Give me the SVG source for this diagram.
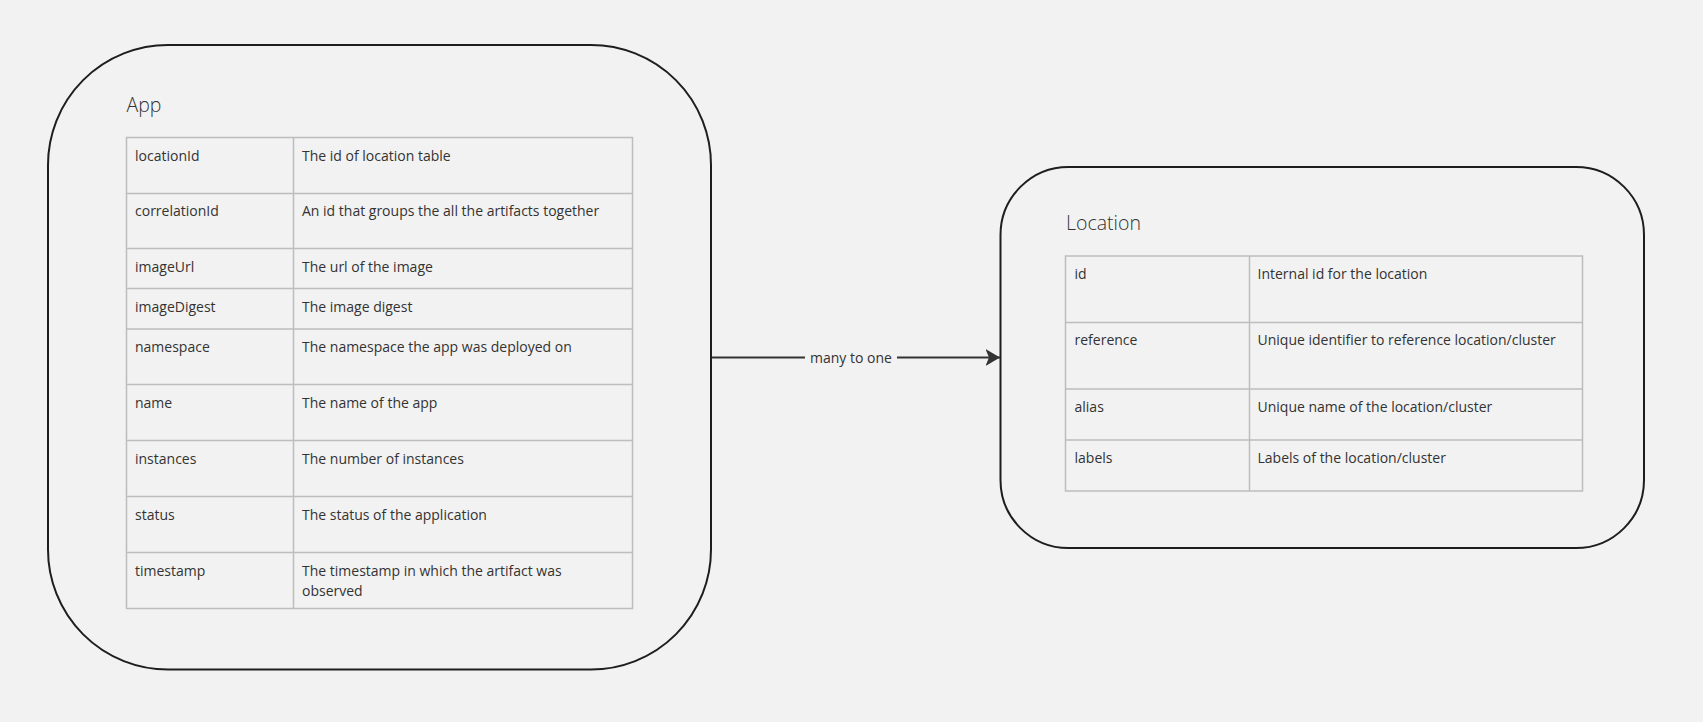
<svg xmlns="http://www.w3.org/2000/svg" width="1703" height="722" viewBox="0 0 1703 722">
<defs>
<style>
.bg{fill:#f2f2f2}
.box{fill:none;stroke:#1e1e1e;stroke-width:2}
.grid{fill:none;stroke:#bdbdbd;stroke-width:1.5}
.t{font-family:"Open Sans","Liberation Sans",sans-serif;font-size:14px;fill:#333}
.title{font-family:"Open Sans","Liberation Sans",sans-serif;font-size:19.5px;font-weight:300;fill:#333}
.edge{fill:none;stroke:#333;stroke-width:2}
</style>
<marker id="arr" viewBox="0 0 15 18" refX="14.5" refY="9" markerWidth="15" markerHeight="18" markerUnits="userSpaceOnUse" orient="auto">
<path d="M0,0.5 L14.5,9 L0,17.5 L3.5,9 Z" fill="#333"/>
</marker>
</defs>
<rect class="bg" x="0" y="0" width="1703" height="722"/>

<g id="app">
<rect class="box" x="48" y="45" width="663" height="624.5" rx="120" ry="120"/>
<text class="title" x="126.5" y="111.5">App</text>
<g class="grid">
<rect x="126.5" y="137.5" width="506" height="471"/>
<line x1="293.5" y1="137.5" x2="293.5" y2="608.5"/>
<line x1="126.5" y1="193.5" x2="632.5" y2="193.5"/>
<line x1="126.5" y1="248.5" x2="632.5" y2="248.5"/>
<line x1="126.5" y1="288.5" x2="632.5" y2="288.5"/>
<line x1="126.5" y1="329" x2="632.5" y2="329"/>
<line x1="126.5" y1="384.5" x2="632.5" y2="384.5"/>
<line x1="126.5" y1="440.5" x2="632.5" y2="440.5"/>
<line x1="126.5" y1="496.5" x2="632.5" y2="496.5"/>
<line x1="126.5" y1="552.5" x2="632.5" y2="552.5"/>
</g>
<text class="t" x="135" y="160.5">locationId</text>
<text class="t" x="302" y="160.5">The id of location table</text>
<text class="t" x="135" y="216.3">correlationId</text>
<text class="t" x="302" y="216.3">An id that groups the all the artifacts together</text>
<text class="t" x="135" y="271.5">imageUrl</text>
<text class="t" x="302" y="271.5">The url of the image</text>
<text class="t" x="135" y="311.5">imageDigest</text>
<text class="t" x="302" y="311.5">The image digest</text>
<text class="t" x="135" y="351.8">namespace</text>
<text class="t" x="302" y="351.8">The namespace the app was deployed on</text>
<text class="t" x="135" y="407.5">name</text>
<text class="t" x="302" y="407.5">The name of the app</text>
<text class="t" x="135" y="463.5">instances</text>
<text class="t" x="302" y="463.5">The number of instances</text>
<text class="t" x="135" y="519.5">status</text>
<text class="t" x="302" y="519.5">The status of the application</text>
<text class="t" x="135" y="575.5">timestamp</text>
<text class="t" x="302" y="575.5">The timestamp in which the artifact was</text>
<text class="t" x="302" y="595.5">observed</text>
</g>

<g id="location">
<rect class="box" x="1000.5" y="167" width="643.5" height="381" rx="68" ry="68"/>
<text class="title" x="1066" y="229.5">Location</text>
<g class="grid">
<rect x="1065.5" y="256" width="517" height="235"/>
<line x1="1249.5" y1="256" x2="1249.5" y2="491"/>
<line x1="1065.5" y1="322.5" x2="1582.5" y2="322.5"/>
<line x1="1065.5" y1="389" x2="1582.5" y2="389"/>
<line x1="1065.5" y1="440" x2="1582.5" y2="440"/>
</g>
<text class="t" x="1074.5" y="278.5">id</text>
<text class="t" x="1257.5" y="278.5">Internal id for the location</text>
<text class="t" x="1074.5" y="345">reference</text>
<text class="t" x="1257.5" y="345">Unique identifier to reference location/cluster</text>
<text class="t" x="1074.5" y="411.5">alias</text>
<text class="t" x="1257.5" y="411.5">Unique name of the location/cluster</text>
<text class="t" x="1074.5" y="462.5">labels</text>
<text class="t" x="1257.5" y="462.5">Labels of the location/cluster</text>
</g>

<g id="connectors">
<line class="edge" x1="712" y1="357.5" x2="805" y2="357.5"/>
<line class="edge" x1="897" y1="357.5" x2="1000" y2="357.5" marker-end="url(#arr)"/>
<text class="t" x="851" y="362.5" text-anchor="middle">many to one</text>
</g>
</svg>
